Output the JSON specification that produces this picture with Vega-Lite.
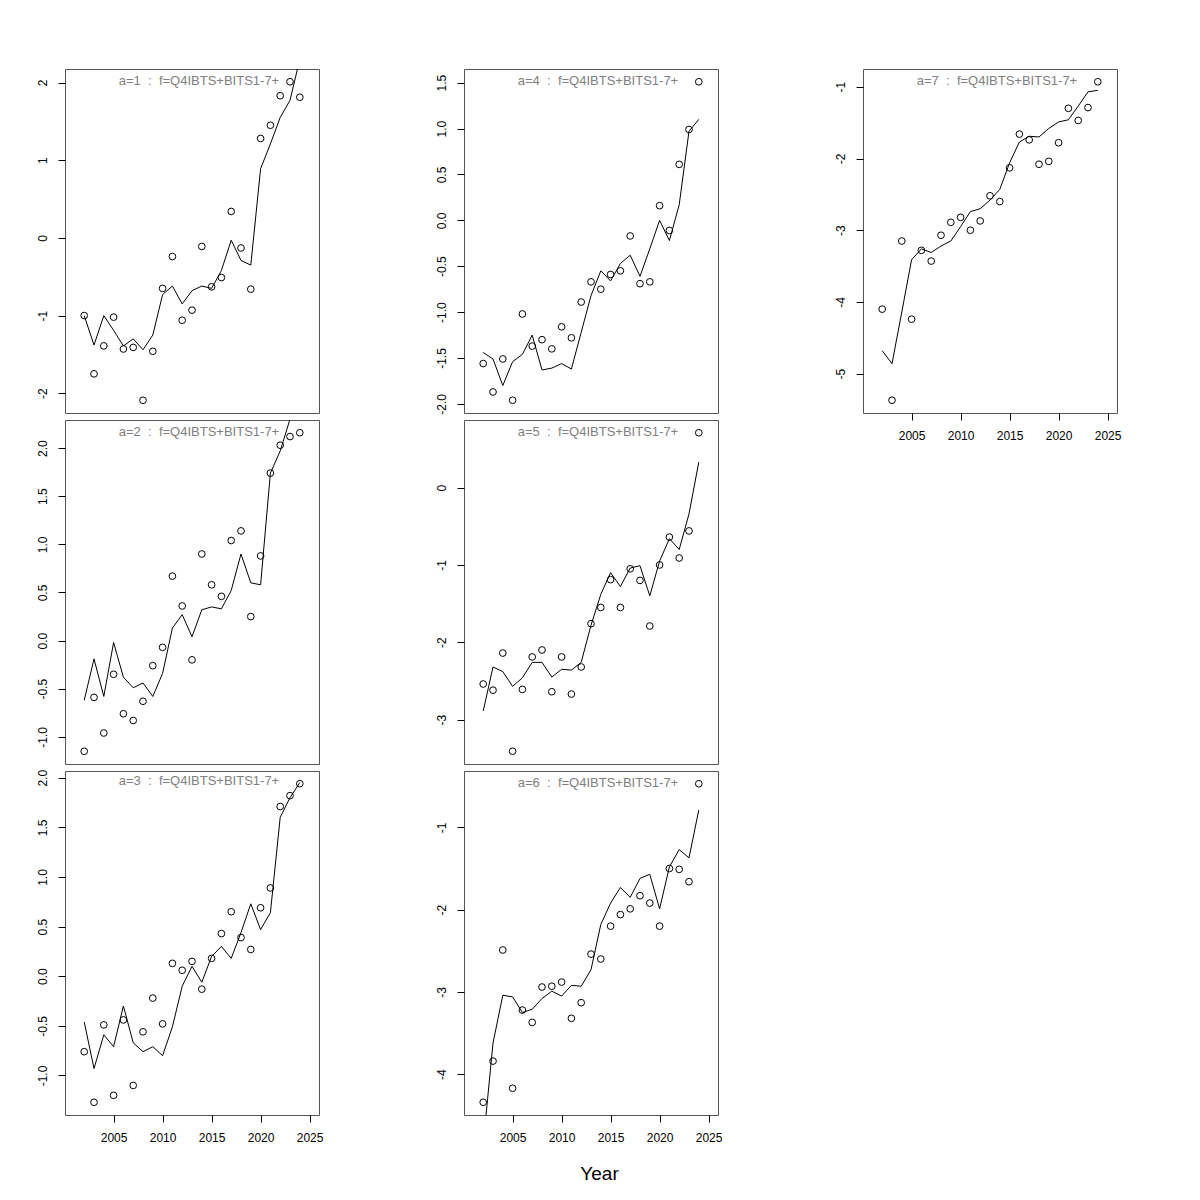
{
 "$schema": "https://vega.github.io/schema/vega-lite/v6.json",
 "background": "white",
 "padding": {"left": 35, "top": 68, "right": 5, "bottom": 5},
 "datasets": {"d": [
{"a":1,"year":2002,"obs":-1.00,"fit":-1.00},{"a":1,"year":2003,"obs":-1.75,"fit":-1.38},{"a":1,"year":2004,"obs":-1.39,"fit":-1.00},{"a":1,"year":2005,"obs":-1.02,"fit":-1.19},{"a":1,"year":2006,"obs":-1.43,"fit":-1.39},{"a":1,"year":2007,"obs":-1.41,"fit":-1.30},{"a":1,"year":2008,"obs":-2.09,"fit":-1.44},{"a":1,"year":2009,"obs":-1.46,"fit":-1.25},{"a":1,"year":2010,"obs":-0.65,"fit":-0.73},{"a":1,"year":2011,"obs":-0.24,"fit":-0.62},{"a":1,"year":2012,"obs":-1.06,"fit":-0.85},{"a":1,"year":2013,"obs":-0.93,"fit":-0.68},{"a":1,"year":2014,"obs":-0.11,"fit":-0.62},{"a":1,"year":2015,"obs":-0.63,"fit":-0.65},{"a":1,"year":2016,"obs":-0.51,"fit":-0.42},{"a":1,"year":2017,"obs":0.34,"fit":-0.03},{"a":1,"year":2018,"obs":-0.13,"fit":-0.29},{"a":1,"year":2019,"obs":-0.66,"fit":-0.35},{"a":1,"year":2020,"obs":1.28,"fit":0.89},{"a":1,"year":2021,"obs":1.45,"fit":1.21},{"a":1,"year":2022,"obs":1.83,"fit":1.55},{"a":1,"year":2023,"obs":2.01,"fit":1.77},{"a":1,"year":2024,"obs":1.81,"fit":2.30},
{"a":2,"year":2002,"obs":-1.15,"fit":-0.62},{"a":2,"year":2003,"obs":-0.59,"fit":-0.19},{"a":2,"year":2004,"obs":-0.96,"fit":-0.58},{"a":2,"year":2005,"obs":-0.35,"fit":-0.02},{"a":2,"year":2006,"obs":-0.76,"fit":-0.38},{"a":2,"year":2007,"obs":-0.83,"fit":-0.49},{"a":2,"year":2008,"obs":-0.63,"fit":-0.44},{"a":2,"year":2009,"obs":-0.26,"fit":-0.58},{"a":2,"year":2010,"obs":-0.07,"fit":-0.34},{"a":2,"year":2011,"obs":0.67,"fit":0.13},{"a":2,"year":2012,"obs":0.36,"fit":0.27},{"a":2,"year":2013,"obs":-0.20,"fit":0.04},{"a":2,"year":2014,"obs":0.90,"fit":0.32},{"a":2,"year":2015,"obs":0.58,"fit":0.35},{"a":2,"year":2016,"obs":0.46,"fit":0.33},{"a":2,"year":2017,"obs":1.04,"fit":0.52},{"a":2,"year":2018,"obs":1.14,"fit":0.90},{"a":2,"year":2019,"obs":0.25,"fit":0.60},{"a":2,"year":2020,"obs":0.88,"fit":0.58},{"a":2,"year":2021,"obs":1.74,"fit":1.74},{"a":2,"year":2022,"obs":2.03,"fit":1.97},{"a":2,"year":2023,"obs":2.12,"fit":2.30},{"a":2,"year":2024,"obs":2.16,"fit":2.50},
{"a":3,"year":2002,"obs":-0.76,"fit":-0.46},{"a":3,"year":2003,"obs":-1.27,"fit":-0.93},{"a":3,"year":2004,"obs":-0.49,"fit":-0.59},{"a":3,"year":2005,"obs":-1.20,"fit":-0.71},{"a":3,"year":2006,"obs":-0.44,"fit":-0.30},{"a":3,"year":2007,"obs":-1.10,"fit":-0.67},{"a":3,"year":2008,"obs":-0.56,"fit":-0.76},{"a":3,"year":2009,"obs":-0.22,"fit":-0.71},{"a":3,"year":2010,"obs":-0.48,"fit":-0.80},{"a":3,"year":2011,"obs":0.13,"fit":-0.51},{"a":3,"year":2012,"obs":0.06,"fit":-0.10},{"a":3,"year":2013,"obs":0.15,"fit":0.10},{"a":3,"year":2014,"obs":-0.13,"fit":-0.06},{"a":3,"year":2015,"obs":0.18,"fit":0.20},{"a":3,"year":2016,"obs":0.43,"fit":0.30},{"a":3,"year":2017,"obs":0.65,"fit":0.18},{"a":3,"year":2018,"obs":0.39,"fit":0.44},{"a":3,"year":2019,"obs":0.27,"fit":0.73},{"a":3,"year":2020,"obs":0.69,"fit":0.47},{"a":3,"year":2021,"obs":0.89,"fit":0.64},{"a":3,"year":2022,"obs":1.71,"fit":1.60},{"a":3,"year":2023,"obs":1.82,"fit":1.80},{"a":3,"year":2024,"obs":1.94,"fit":1.95},
{"a":4,"year":2002,"obs":-1.56,"fit":-1.44},{"a":4,"year":2003,"obs":-1.87,"fit":-1.51},{"a":4,"year":2004,"obs":-1.51,"fit":-1.80},{"a":4,"year":2005,"obs":-1.96,"fit":-1.54},{"a":4,"year":2006,"obs":-1.02,"fit":-1.46},{"a":4,"year":2007,"obs":-1.37,"fit":-1.25},{"a":4,"year":2008,"obs":-1.30,"fit":-1.63},{"a":4,"year":2009,"obs":-1.40,"fit":-1.61},{"a":4,"year":2010,"obs":-1.16,"fit":-1.56},{"a":4,"year":2011,"obs":-1.28,"fit":-1.62},{"a":4,"year":2012,"obs":-0.89,"fit":-1.22},{"a":4,"year":2013,"obs":-0.67,"fit":-0.82},{"a":4,"year":2014,"obs":-0.75,"fit":-0.55},{"a":4,"year":2015,"obs":-0.59,"fit":-0.66},{"a":4,"year":2016,"obs":-0.55,"fit":-0.47},{"a":4,"year":2017,"obs":-0.17,"fit":-0.38},{"a":4,"year":2018,"obs":-0.69,"fit":-0.61},{"a":4,"year":2019,"obs":-0.67,"fit":-0.31},{"a":4,"year":2020,"obs":0.16,"fit":0.00},{"a":4,"year":2021,"obs":-0.11,"fit":-0.22},{"a":4,"year":2022,"obs":0.61,"fit":0.17},{"a":4,"year":2023,"obs":0.99,"fit":0.97},{"a":4,"year":2024,"obs":1.51,"fit":1.10},
{"a":5,"year":2002,"obs":-2.54,"fit":-2.89},{"a":5,"year":2003,"obs":-2.62,"fit":-2.32},{"a":5,"year":2004,"obs":-2.14,"fit":-2.38},{"a":5,"year":2005,"obs":-3.41,"fit":-2.57},{"a":5,"year":2006,"obs":-2.61,"fit":-2.46},{"a":5,"year":2007,"obs":-2.19,"fit":-2.26},{"a":5,"year":2008,"obs":-2.10,"fit":-2.26},{"a":5,"year":2009,"obs":-2.64,"fit":-2.45},{"a":5,"year":2010,"obs":-2.19,"fit":-2.35},{"a":5,"year":2011,"obs":-2.67,"fit":-2.36},{"a":5,"year":2012,"obs":-2.32,"fit":-2.26},{"a":5,"year":2013,"obs":-1.76,"fit":-1.78},{"a":5,"year":2014,"obs":-1.55,"fit":-1.38},{"a":5,"year":2015,"obs":-1.19,"fit":-1.10},{"a":5,"year":2016,"obs":-1.55,"fit":-1.28},{"a":5,"year":2017,"obs":-1.05,"fit":-1.04},{"a":5,"year":2018,"obs":-1.20,"fit":-1.01},{"a":5,"year":2019,"obs":-1.79,"fit":-1.40},{"a":5,"year":2020,"obs":-1.00,"fit":-0.95},{"a":5,"year":2021,"obs":-0.64,"fit":-0.66},{"a":5,"year":2022,"obs":-0.91,"fit":-0.80},{"a":5,"year":2023,"obs":-0.56,"fit":-0.34},{"a":5,"year":2024,"obs":0.71,"fit":0.33},
{"a":6,"year":2002,"obs":-4.34,"fit":-4.85},{"a":6,"year":2003,"obs":-3.84,"fit":-3.62},{"a":6,"year":2004,"obs":-2.49,"fit":-3.04},{"a":6,"year":2005,"obs":-4.17,"fit":-3.06},{"a":6,"year":2006,"obs":-3.22,"fit":-3.25},{"a":6,"year":2007,"obs":-3.37,"fit":-3.21},{"a":6,"year":2008,"obs":-2.94,"fit":-3.08},{"a":6,"year":2009,"obs":-2.93,"fit":-2.99},{"a":6,"year":2010,"obs":-2.88,"fit":-3.05},{"a":6,"year":2011,"obs":-3.32,"fit":-2.92},{"a":6,"year":2012,"obs":-3.13,"fit":-2.93},{"a":6,"year":2013,"obs":-2.54,"fit":-2.73},{"a":6,"year":2014,"obs":-2.60,"fit":-2.18},{"a":6,"year":2015,"obs":-2.20,"fit":-1.92},{"a":6,"year":2016,"obs":-2.06,"fit":-1.73},{"a":6,"year":2017,"obs":-1.99,"fit":-1.85},{"a":6,"year":2018,"obs":-1.83,"fit":-1.62},{"a":6,"year":2019,"obs":-1.92,"fit":-1.57},{"a":6,"year":2020,"obs":-2.20,"fit":-1.99},{"a":6,"year":2021,"obs":-1.50,"fit":-1.48},{"a":6,"year":2022,"obs":-1.51,"fit":-1.27},{"a":6,"year":2023,"obs":-1.66,"fit":-1.37},{"a":6,"year":2024,"obs":-0.47,"fit":-0.79},
{"a":7,"year":2002,"obs":-4.10,"fit":-4.68},{"a":7,"year":2003,"obs":-5.37,"fit":-4.86},{"a":7,"year":2004,"obs":-3.15,"fit":-4.14},{"a":7,"year":2005,"obs":-4.24,"fit":-3.41},{"a":7,"year":2006,"obs":-3.28,"fit":-3.26},{"a":7,"year":2007,"obs":-3.43,"fit":-3.31},{"a":7,"year":2008,"obs":-3.07,"fit":-3.22},{"a":7,"year":2009,"obs":-2.89,"fit":-3.15},{"a":7,"year":2010,"obs":-2.82,"fit":-2.95},{"a":7,"year":2011,"obs":-3.00,"fit":-2.74},{"a":7,"year":2012,"obs":-2.87,"fit":-2.70},{"a":7,"year":2013,"obs":-2.52,"fit":-2.58},{"a":7,"year":2014,"obs":-2.60,"fit":-2.43},{"a":7,"year":2015,"obs":-2.13,"fit":-2.06},{"a":7,"year":2016,"obs":-1.66,"fit":-1.77},{"a":7,"year":2017,"obs":-1.74,"fit":-1.69},{"a":7,"year":2018,"obs":-2.08,"fit":-1.70},{"a":7,"year":2019,"obs":-2.04,"fit":-1.58},{"a":7,"year":2020,"obs":-1.78,"fit":-1.49},{"a":7,"year":2021,"obs":-1.30,"fit":-1.46},{"a":7,"year":2022,"obs":-1.47,"fit":-1.27},{"a":7,"year":2023,"obs":-1.29,"fit":-1.07},{"a":7,"year":2024,"obs":-0.93,"fit":-1.05}
 ]},
 "data": {"name": "d"},
 "spacing": 110,
 "bounds": "full",
 "hconcat": [
  {"spacing": 7, "bounds": "flush", "vconcat": [
   {"width": 254, "height": 344,
    "title": {"text": "a=1\u00a0\u00a0:\u00a0\u00a0f=Q4IBTS+BITS1-7+"},
    "transform": [{"filter": "datum.a == 1"}],
    "encoding": {"x": {"field": "year", "type": "quantitative", "scale": {"domain": [2000.04, 2025.96], "nice": false, "zero": false}, "axis": null}},
    "layer": [
     {"mark": {"type": "line", "clip": true}, "encoding": {"y": {"field": "fit", "type": "quantitative", "scale": {"domain": [-2.254, 2.174], "nice": false, "zero": false}, "axis": {"values": [-2, -1, 0, 1, 2], "format": "d", "title": null, "labelExpr": "replace(datum.label, '−', '-')"}}}},
     {"mark": {"type": "point", "clip": true}, "encoding": {"y": {"field": "obs", "type": "quantitative", "scale": {"domain": [-2.254, 2.174], "nice": false, "zero": false}, "axis": {"values": [-2, -1, 0, 1, 2], "format": "d", "title": null, "labelExpr": "replace(datum.label, '−', '-')"}}}}
    ]},
   {"width": 254, "height": 344,
    "title": {"text": "a=2\u00a0\u00a0:\u00a0\u00a0f=Q4IBTS+BITS1-7+"},
    "transform": [{"filter": "datum.a == 2"}],
    "encoding": {"x": {"field": "year", "type": "quantitative", "scale": {"domain": [2000.04, 2025.96], "nice": false, "zero": false}, "axis": null}},
    "layer": [
     {"mark": {"type": "line", "clip": true}, "encoding": {"y": {"field": "fit", "type": "quantitative", "scale": {"domain": [-1.282, 2.292], "nice": false, "zero": false}, "axis": {"values": [-1, -0.5, 0, 0.5, 1, 1.5, 2], "format": ".1f", "title": null, "labelExpr": "replace(datum.label, '−', '-')"}}}},
     {"mark": {"type": "point", "clip": true}, "encoding": {"y": {"field": "obs", "type": "quantitative", "scale": {"domain": [-1.282, 2.292], "nice": false, "zero": false}, "axis": {"values": [-1, -0.5, 0, 0.5, 1, 1.5, 2], "format": ".1f", "title": null, "labelExpr": "replace(datum.label, '−', '-')"}}}}
    ]},
   {"width": 254, "height": 344,
    "title": {"text": "a=3\u00a0\u00a0:\u00a0\u00a0f=Q4IBTS+BITS1-7+"},
    "transform": [{"filter": "datum.a == 3"}],
    "encoding": {"x": {"field": "year", "type": "quantitative", "scale": {"domain": [2000.04, 2025.96], "nice": false, "zero": false}, "axis": {"values": [2005, 2010, 2015, 2020, 2025], "format": "d", "title": null}}},
    "layer": [
     {"mark": {"type": "line", "clip": true}, "encoding": {"y": {"field": "fit", "type": "quantitative", "scale": {"domain": [-1.398, 2.068], "nice": false, "zero": false}, "axis": {"values": [-1, -0.5, 0, 0.5, 1, 1.5, 2], "format": ".1f", "title": null, "labelExpr": "replace(datum.label, '−', '-')"}}}},
     {"mark": {"type": "point", "clip": true}, "encoding": {"y": {"field": "obs", "type": "quantitative", "scale": {"domain": [-1.398, 2.068], "nice": false, "zero": false}, "axis": {"values": [-1, -0.5, 0, 0.5, 1, 1.5, 2], "format": ".1f", "title": null, "labelExpr": "replace(datum.label, '−', '-')"}}}}
    ]}
  ]},
  {"spacing": 7, "bounds": "flush", "vconcat": [
   {"width": 254, "height": 344,
    "title": {"text": "a=4\u00a0\u00a0:\u00a0\u00a0f=Q4IBTS+BITS1-7+"},
    "transform": [{"filter": "datum.a == 4"}],
    "encoding": {"x": {"field": "year", "type": "quantitative", "scale": {"domain": [2000.04, 2025.96], "nice": false, "zero": false}, "axis": null}},
    "layer": [
     {"mark": {"type": "line", "clip": true}, "encoding": {"y": {"field": "fit", "type": "quantitative", "scale": {"domain": [-2.099, 1.649], "nice": false, "zero": false}, "axis": {"values": [-2, -1.5, -1, -0.5, 0, 0.5, 1, 1.5], "format": ".1f", "title": null, "labelExpr": "replace(datum.label, '−', '-')"}}}},
     {"mark": {"type": "point", "clip": true}, "encoding": {"y": {"field": "obs", "type": "quantitative", "scale": {"domain": [-2.099, 1.649], "nice": false, "zero": false}, "axis": {"values": [-2, -1.5, -1, -0.5, 0, 0.5, 1, 1.5], "format": ".1f", "title": null, "labelExpr": "replace(datum.label, '−', '-')"}}}}
    ]},
   {"width": 254, "height": 344,
    "title": {"text": "a=5\u00a0\u00a0:\u00a0\u00a0f=Q4IBTS+BITS1-7+"},
    "transform": [{"filter": "datum.a == 5"}],
    "encoding": {"x": {"field": "year", "type": "quantitative", "scale": {"domain": [2000.04, 2025.96], "nice": false, "zero": false}, "axis": null}},
    "layer": [
     {"mark": {"type": "line", "clip": true}, "encoding": {"y": {"field": "fit", "type": "quantitative", "scale": {"domain": [-3.575, 0.875], "nice": false, "zero": false}, "axis": {"values": [-3, -2, -1, 0], "format": "d", "title": null, "labelExpr": "replace(datum.label, '−', '-')"}}}},
     {"mark": {"type": "point", "clip": true}, "encoding": {"y": {"field": "obs", "type": "quantitative", "scale": {"domain": [-3.575, 0.875], "nice": false, "zero": false}, "axis": {"values": [-3, -2, -1, 0], "format": "d", "title": null, "labelExpr": "replace(datum.label, '−', '-')"}}}}
    ]},
   {"width": 254, "height": 344,
    "title": {"text": "a=6\u00a0\u00a0:\u00a0\u00a0f=Q4IBTS+BITS1-7+"},
    "transform": [{"filter": "datum.a == 6"}],
    "encoding": {"x": {"field": "year", "type": "quantitative", "scale": {"domain": [2000.04, 2025.96], "nice": false, "zero": false}, "axis": {"values": [2005, 2010, 2015, 2020, 2025], "format": "d", "title": "Year", "titleX": 135, "titleY": 58, "titleBaseline": "middle", "titleAlign": "center", "titleFontSize": 19, "titleFontWeight": "normal", "titleColor": "black", "titleFont": "Liberation Sans"}}},
    "layer": [
     {"mark": {"type": "line", "clip": true}, "encoding": {"y": {"field": "fit", "type": "quantitative", "scale": {"domain": [-4.495, -0.315], "nice": false, "zero": false}, "axis": {"values": [-4, -3, -2, -1], "format": "d", "title": null, "labelExpr": "replace(datum.label, '−', '-')"}}}},
     {"mark": {"type": "point", "clip": true}, "encoding": {"y": {"field": "obs", "type": "quantitative", "scale": {"domain": [-4.495, -0.315], "nice": false, "zero": false}, "axis": {"values": [-4, -3, -2, -1], "format": "d", "title": null, "labelExpr": "replace(datum.label, '−', '-')"}}}}
    ]}
  ]},
  {"spacing": 7, "bounds": "flush", "vconcat": [
   {"width": 254, "height": 344,
    "title": {"text": "a=7\u00a0\u00a0:\u00a0\u00a0f=Q4IBTS+BITS1-7+"},
    "transform": [{"filter": "datum.a == 7"}],
    "encoding": {"x": {"field": "year", "type": "quantitative", "scale": {"domain": [2000.04, 2025.96], "nice": false, "zero": false}, "axis": {"values": [2005, 2010, 2015, 2020, 2025], "format": "d", "title": null}}},
    "layer": [
     {"mark": {"type": "line", "clip": true}, "encoding": {"y": {"field": "fit", "type": "quantitative", "scale": {"domain": [-5.548, -0.752], "nice": false, "zero": false}, "axis": {"values": [-5, -4, -3, -2, -1], "format": "d", "title": null, "labelExpr": "replace(datum.label, '−', '-')"}}}},
     {"mark": {"type": "point", "clip": true}, "encoding": {"y": {"field": "obs", "type": "quantitative", "scale": {"domain": [-5.548, -0.752], "nice": false, "zero": false}, "axis": {"values": [-5, -4, -3, -2, -1], "format": "d", "title": null, "labelExpr": "replace(datum.label, '−', '-')"}}}}
    ]}
  ]}
 ],
 "config": {
  "font": "Liberation Sans",
  "view": {"stroke": "#555555", "strokeWidth": 1},
  "line": {"color": "black", "strokeWidth": 1},
  "point": {"shape": "circle", "filled": false, "color": "black", "size": 45, "strokeWidth": 1, "opacity": 1},
  "axis": {"grid": false, "domain": false, "ticks": true, "tickColor": "black", "tickSize": 7, "labelColor": "black", "labelFontSize": 12, "labelFont": "Liberation Sans", "labelFlush": false, "labelOverlap": false},
  "axisY": {"labelAngle": -90, "labelAlign": "center", "labelBaseline": "bottom", "labelPadding": 9},
  "axisX": {"labelPadding": 10},
  "title": {"anchor": "middle", "offset": -19, "baseline": "middle", "color": "#808080", "fontSize": 13, "fontWeight": "normal", "font": "Liberation Sans", "dx": 7, "frame": "group"}
 }
}
